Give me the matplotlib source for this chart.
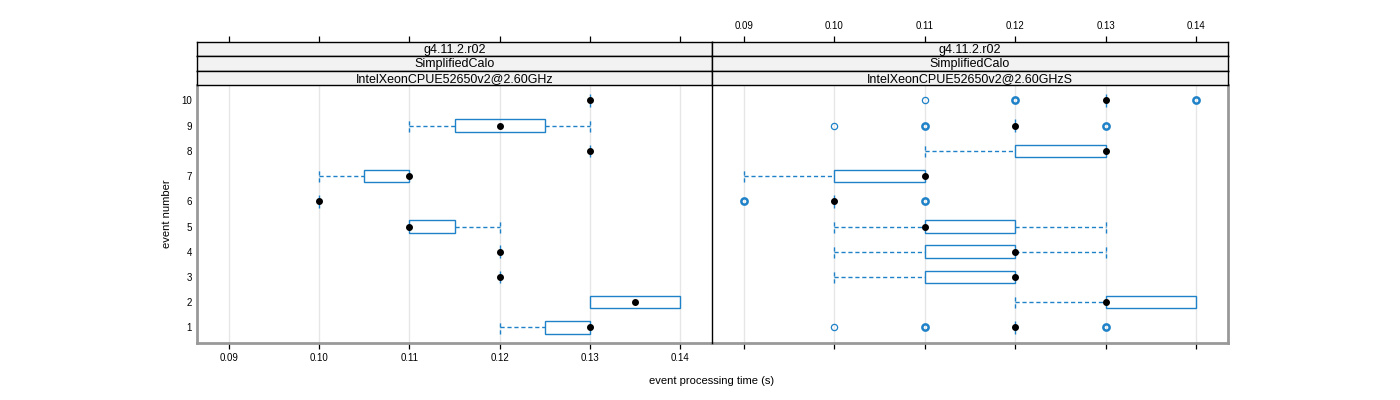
import numpy as np
import matplotlib
matplotlib.use('Agg')
from matplotlib import pyplot as plt
from matplotlib.patches import Rectangle

plt.rcParams['font.family'] = ['Liberation Sans', 'DejaVu Sans']

## data (event number 1..10)
events = np.arange(1, 11)
strip_top = 'g4.11.2.r02'
strip_mid = 'SimplifiedCalo'
machines = ['IntelXeonCPUE52650v2@2.60GHz', 'IntelXeonCPUE52650v2@2.60GHzS']

# left panel
lo_a  = [0.12, 0.13, 0.12, 0.12, 0.11, 0.10, 0.10, 0.13, 0.11, 0.13]
q1_a  = [0.125, 0.13, 0.12, 0.12, 0.11, 0.10, 0.105, 0.13, 0.115, 0.13]
med_a = [0.13, 0.135, 0.12, 0.12, 0.11, 0.10, 0.11, 0.13, 0.12, 0.13]
q3_a  = [0.13, 0.14, 0.12, 0.12, 0.115, 0.10, 0.11, 0.13, 0.125, 0.13]
hi_a  = [0.13, 0.14, 0.12, 0.12, 0.12, 0.10, 0.11, 0.13, 0.13, 0.13]
out_a = {}

# right panel
lo_b  = [0.12, 0.12, 0.10, 0.10, 0.10, 0.10, 0.09, 0.11, 0.12, 0.13]
q1_b  = [0.12, 0.13, 0.11, 0.11, 0.11, 0.10, 0.10, 0.12, 0.12, 0.13]
med_b = [0.12, 0.13, 0.12, 0.12, 0.11, 0.10, 0.11, 0.13, 0.12, 0.13]
q3_b  = [0.12, 0.14, 0.12, 0.12, 0.12, 0.10, 0.11, 0.13, 0.12, 0.13]
hi_b  = [0.12, 0.14, 0.12, 0.13, 0.13, 0.10, 0.11, 0.13, 0.12, 0.13]
# outliers: event -> list of (value, repeated?)
out_b = {1: [(0.10, False), (0.11, True), (0.13, True)],
         6: [(0.09, True), (0.11, True)],
         9: [(0.10, False), (0.11, True), (0.13, True)],
         10: [(0.11, False), (0.12, True), (0.14, True)]}

xticks = [0.09, 0.10, 0.11, 0.12, 0.13, 0.14]
xlim = (0.08645, 0.14355)
ylim = (0.4, 10.6)

blue = '#1f82c8'
frame = '#999999'

W, H = 1400, 400
fig = plt.figure(figsize=(14, 4), dpi=100)

def ax_px(x0, y0, x1, y1):
    # pixel box (top-left origin) -> axes
    return fig.add_axes([x0 / W, 1 - y1 / H, (x1 - x0) / W, (y1 - y0) / H])

panels = [(197, 712), (712, 1228)]
data = [(lo_a, q1_a, med_a, q3_a, hi_a, out_a), (lo_b, q1_b, med_b, q3_b, hi_b, out_b)]
strip_y = [41.7, 56.2, 70.8, 85.3]

for k, (x0, x1) in enumerate(panels):
    lo, q1, med, q3, hi, outl = data[k]
    ax = ax_px(x0, 85.3, x1, 342.5)
    ax.set_xlim(*xlim)
    ax.set_ylim(*ylim)
    for t in xticks:
        ax.axvline(t, color='#e6e6e6', lw=1, zorder=0)
    for i, e in enumerate(events):
        ax.add_patch(Rectangle((q1[i], e - 0.25), q3[i] - q1[i], 0.5,
                               fill=False, ec=blue, lw=1, zorder=2))
        if lo[i] < q1[i]:
            ax.plot([lo[i], q1[i]], [e, e], color=blue, lw=1, dashes=(3, 2))
            ax.plot([lo[i], lo[i]], [e - 0.25, e + 0.25], color=blue, lw=1, dashes=(3, 2))
        if hi[i] > q3[i]:
            ax.plot([q3[i], hi[i]], [e, e], color=blue, lw=1, dashes=(3, 2))
            ax.plot([hi[i], hi[i]], [e - 0.25, e + 0.25], color=blue, lw=1, dashes=(3, 2))
        ax.plot(med[i], e, 'o', color='black', ms=4, zorder=4)
        for v, rep in outl.get(e, []):
            ax.plot(v, e, 'o', mfc='none', mec=blue, ms=4.5, mew=1.8 if rep else 0.9, zorder=3)

    ax.set_xticks(xticks)
    ax.set_xticklabels(['%.2f' % t for t in xticks] if k == 0 else [])
    ax.tick_params(axis='x', direction='out', length=4.5, width=0.9, pad=3, labelsize=7)
    ax.set_yticks(events)
    if k == 0:
        ax.set_yticklabels([str(e) for e in events])
        ax.tick_params(axis='y', length=0, pad=3.5, labelsize=7)
    else:
        ax.tick_params(axis='y', left=False, labelleft=False)
    ax.spines['top'].set_visible(False)
    ax.spines['bottom'].set_color(frame)
    ax.spines['bottom'].set_linewidth(2)
    if k == 0:
        ax.spines['left'].set_color(frame)
        ax.spines['left'].set_linewidth(2)
        ax.spines['right'].set_visible(False)
    else:
        ax.spines['left'].set_color('black')
        ax.spines['left'].set_linewidth(1)
        ax.spines['left'].set_zorder(5)
        ax.spines['right'].set_color(frame)
        ax.spines['right'].set_linewidth(2)

    # strips
    labels = [strip_top, strip_mid, machines[k]]
    for j in range(3):
        sa = ax_px(x0, strip_y[j], x1, strip_y[j + 1])
        sa.set_facecolor('#f2f2f2')
        sa.set_xlim(*xlim)
        sa.set_yticks([])
        for s in sa.spines.values():
            s.set_linewidth(1)
            s.set_color('black')
        sa.text(0.5, 0.45, labels[j], transform=sa.transAxes, ha='center', va='center', fontsize=9)
        if j == 0:
            sa.xaxis.tick_top()
            sa.set_xticks(xticks)
            sa.set_xticklabels(['%.2f' % t for t in xticks] if k == 1 else [])
            sa.tick_params(axis='x', direction='out', length=4.5, width=0.9, pad=3, labelsize=7)
        else:
            sa.set_xticks([])

fig.text(712 / W, 1 - 381 / H, 'event processing time (s)', ha='center', va='center', fontsize=8)
fig.text(167 / W, 1 - 214 / H, 'event number', ha='center', va='center', rotation=90, fontsize=8)

fig.savefig('out.png', dpi=100)
